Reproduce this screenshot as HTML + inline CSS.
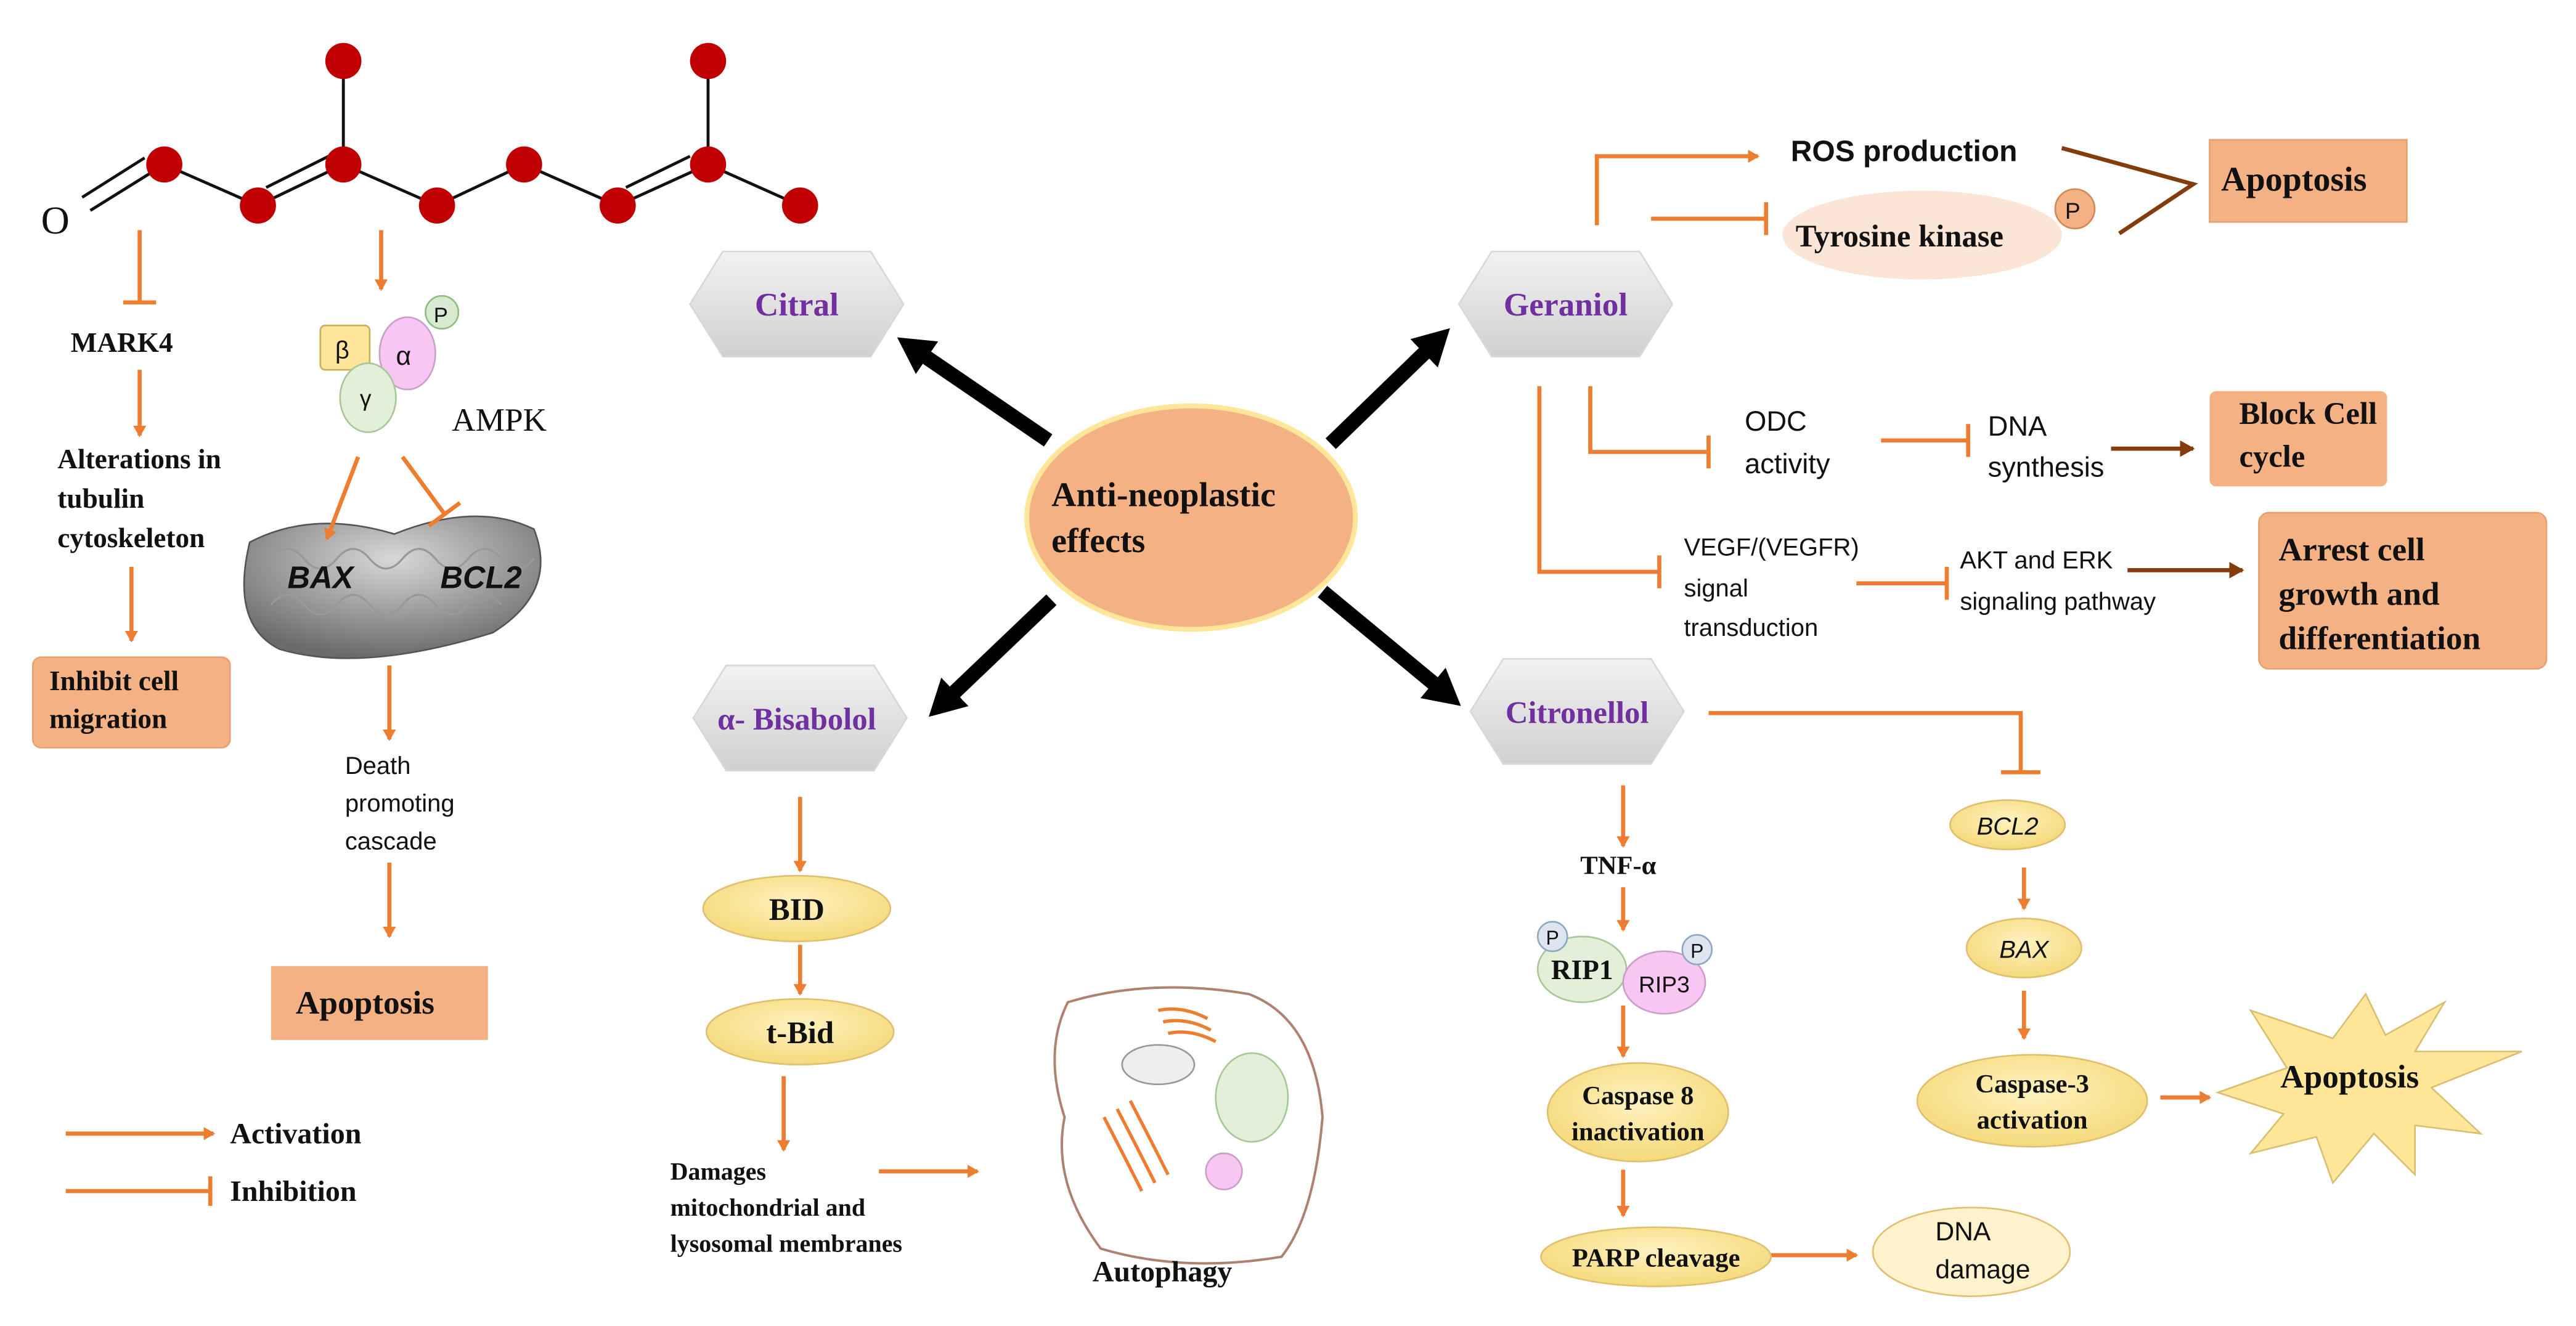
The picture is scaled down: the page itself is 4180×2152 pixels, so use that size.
<!DOCTYPE html>
<html><head><meta charset="utf-8"><style>
html,body{margin:0;padding:0;background:#fff}
svg{display:block}
text{font-family:"Liberation Serif",serif;font-weight:bold;fill:#111}
.s{font-family:"Liberation Sans",sans-serif;font-weight:normal}
.p{fill:#7030a0}
</style></head><body>
<svg width="4180" height="2152" viewBox="0 0 1568 807" xmlns="http://www.w3.org/2000/svg">
<defs>
<marker id="a" markerWidth="8" markerHeight="8" refX="6" refY="4" orient="auto" markerUnits="userSpaceOnUse"><path d="M0,0 L7,4 L0,8 z" fill="#ed7d31"/></marker>
<marker id="b" markerWidth="10" markerHeight="10" refX="8" refY="5" orient="auto" markerUnits="userSpaceOnUse"><path d="M0,0 L9,5 L0,10 z" fill="#843c0c"/></marker>
<marker id="k" markerWidth="30" markerHeight="30" refX="10" refY="12" orient="auto" markerUnits="userSpaceOnUse"><path d="M0,0 L22,12 L0,24 z" fill="#000"/></marker>
<linearGradient id="hx" x1="0" y1="0" x2="0" y2="1"><stop offset="0" stop-color="#f2f2f2"/><stop offset="1" stop-color="#d0d0d0"/></linearGradient>
<radialGradient id="yl" cx="0.5" cy="0.4" r="0.6"><stop offset="0" stop-color="#fff2c0"/><stop offset="1" stop-color="#f5d97a"/></radialGradient>
<radialGradient id="ml" cx="0.5" cy="0.3" r="0.7"><stop offset="0" stop-color="#d8d8d8"/><stop offset="1" stop-color="#6a6a6a"/></radialGradient>
</defs>
<!-- mitochondrion -->
<path d="M152,330 Q190,310 240,325 Q290,305 325,322 Q340,360 300,385 Q220,410 170,395 Q140,380 152,330 z" fill="url(#ml)" stroke="#555"/>
<g stroke="#999" stroke-width="1.2" fill="none">
<path d="M165,340 q10,-12 20,0 q10,12 20,0 q10,-12 20,0 q10,12 20,0 q10,-12 20,0 q10,12 20,0 q10,-12 20,0 q10,12 20,0"/>
<path d="M165,368 q10,-12 20,0 q10,12 20,0 q10,-12 20,0 q10,12 20,0 q10,-12 20,0 q10,12 20,0 q10,-12 20,0"/>
</g>
<text x="175" y="358" class="s" font-size="19" font-style="italic" style="font-weight:bold">BAX</text>
<text x="268" y="358" class="s" font-size="19" font-style="italic" style="font-weight:bold">BCL2</text>
<g stroke="#ed7d31" stroke-width="2.5" fill="none">
<!-- left -->
<line x1="85" y1="140" x2="85" y2="184"/><line x1="75" y1="184" x2="95" y2="184"/>
<line x1="85" y1="225" x2="85" y2="265" marker-end="url(#a)"/>
<line x1="80" y1="345" x2="80" y2="390" marker-end="url(#a)"/>
<line x1="232" y1="140" x2="232" y2="176" marker-end="url(#a)"/>
<line x1="218" y1="278" x2="199" y2="328" marker-end="url(#a)"/>
<line x1="245" y1="278" x2="270" y2="312"/><line x1="261" y1="320" x2="280" y2="306"/>
<line x1="237" y1="405" x2="237" y2="450" marker-end="url(#a)"/>
<line x1="237" y1="525" x2="237" y2="570" marker-end="url(#a)"/>
<line x1="40" y1="690" x2="130" y2="690" marker-end="url(#a)"/>
<line x1="40" y1="725" x2="128" y2="725"/><line x1="128" y1="716" x2="128" y2="734"/>
<!-- geraniol -->
<polyline points="972,137 972,95 1070,95" marker-end="url(#a)"/>
<line x1="1005" y1="133" x2="1075" y2="133"/><line x1="1075" y1="123" x2="1075" y2="143"/>
<polyline points="968,235 968,275 1040,275"/><line x1="1040" y1="265" x2="1040" y2="285"/>
<line x1="1145" y1="268" x2="1198" y2="268"/><line x1="1198" y1="258" x2="1198" y2="278"/>
<polyline points="937,235 937,348 1010,348"/><line x1="1010" y1="338" x2="1010" y2="358"/>
<line x1="1130" y1="355" x2="1185" y2="355"/><line x1="1185" y1="345" x2="1185" y2="365"/>
<!-- citronellol -->
<polyline points="1040,434 1230,434 1230,470"/><line x1="1218" y1="470" x2="1242" y2="470"/>
<line x1="1232" y1="528" x2="1232" y2="553" marker-end="url(#a)"/>
<line x1="1232" y1="603" x2="1232" y2="632" marker-end="url(#a)"/>
<line x1="1315" y1="668" x2="1345" y2="668" marker-end="url(#a)"/>
<line x1="988" y1="478" x2="988" y2="515" marker-end="url(#a)"/>
<line x1="988" y1="540" x2="988" y2="566" marker-end="url(#a)"/>
<line x1="988" y1="612" x2="988" y2="643" marker-end="url(#a)"/>
<line x1="988" y1="712" x2="988" y2="740" marker-end="url(#a)"/>
<line x1="1078" y1="764" x2="1130" y2="764" marker-end="url(#a)"/>
<!-- bisabolol -->
<line x1="487" y1="485" x2="487" y2="530" marker-end="url(#a)"/>
<line x1="487" y1="575" x2="487" y2="605" marker-end="url(#a)"/>
<line x1="477" y1="655" x2="477" y2="700" marker-end="url(#a)"/>
<line x1="535" y1="713" x2="595" y2="713" marker-end="url(#a)"/>
</g>
<g stroke="#843c0c" stroke-width="2.5" fill="none">
<polyline points="1255,90 1335,112 1290,142"/>
<line x1="1285" y1="273" x2="1335" y2="273" marker-end="url(#b)"/>
<line x1="1295" y1="347" x2="1365" y2="347" marker-end="url(#b)"/>
</g>
<!-- molecule -->
<g stroke="#111" stroke-width="1.8">
<line x1="55" y1="128" x2="100" y2="100"/><line x1="50" y1="120" x2="88" y2="96"/>
<polyline points="100,100 157,125 209,100 266,125 319,100 376,125 431,100 487,125" fill="none"/>
<line x1="162" y1="114" x2="200" y2="95"/><line x1="381" y1="114" x2="420" y2="95"/>
<line x1="209" y1="100" x2="209" y2="37"/><line x1="431" y1="100" x2="431" y2="37"/>
</g>
<g fill="#c00000"><circle cx="100" cy="100" r="11"/><circle cx="157" cy="125" r="11"/><circle cx="209" cy="100" r="11"/><circle cx="209" cy="37" r="11"/><circle cx="266" cy="125" r="11"/><circle cx="319" cy="100" r="11"/><circle cx="376" cy="125" r="11"/><circle cx="431" cy="100" r="11"/><circle cx="431" cy="37" r="11"/><circle cx="487" cy="125" r="11"/></g>
<text x="25" y="142" font-size="24" style="font-weight:normal">O</text>
<!-- left texts -->
<text x="43" y="214" font-size="17">MARK4</text>
<text x="35" y="285" font-size="17">Alterations in</text>
<text x="35" y="309" font-size="17">tubulin</text>
<text x="35" y="333" font-size="17">cytoskeleton</text>
<rect x="20" y="400" width="120" height="55" rx="5" fill="#f4b183" stroke="#e9a070"/>
<text x="30" y="420" font-size="17">Inhibit cell</text>
<text x="30" y="443" font-size="17">migration</text>
<!-- AMPK -->
<rect x="195" y="198" width="30" height="27" rx="3" fill="#ffe699" stroke="#c9b15a"/>
<text x="204" y="218" class="s" font-size="15">β</text>
<ellipse cx="248" cy="215" rx="17" ry="22" fill="#f7c6f2" stroke="#c9a0c9"/>
<text x="241" y="222" class="s" font-size="16">α</text>
<circle cx="269" cy="190" r="10" fill="#d9ead3" stroke="#8fbf80"/>
<text x="264" y="196" class="s" font-size="13">P</text>
<ellipse cx="224" cy="242" rx="17" ry="21" fill="#e2efd9" stroke="#a9c79a"/>
<text x="219" y="247" class="s" font-size="14">γ</text>
<text x="275" y="262" font-size="20" style="font-weight:normal">AMPK</text>
<text x="210" y="471" class="s" font-size="15">Death</text>
<text x="210" y="494" class="s" font-size="15">promoting</text>
<text x="210" y="517" class="s" font-size="15">cascade</text>
<rect x="165" y="588" width="132" height="45" fill="#f4b183"/>
<text x="180" y="617" font-size="20">Apoptosis</text>
<text x="140" y="696" font-size="18">Activation</text>
<text x="140" y="731" font-size="18">Inhibition</text>
<!-- hexagons -->
<g fill="url(#hx)" stroke="#d8d8d8">
<polygon points="420,185 440,153 530,153 550,185 530,217 440,217"/>
<polygon points="888,185 908,153 998,153 1018,185 998,217 908,217"/>
<polygon points="422,437 442,405 532,405 552,437 532,469 442,469"/>
<polygon points="895,433 915,401 1005,401 1025,433 1005,465 915,465"/>
</g>
<text x="485" y="192" font-size="20" class="p" text-anchor="middle">Citral</text>
<text x="953" y="192" font-size="20" class="p" text-anchor="middle">Geraniol</text>
<text x="485" y="444" font-size="19" class="p" text-anchor="middle">α- Bisabolol</text>
<text x="960" y="440" font-size="19" class="p" text-anchor="middle">Citronellol</text>
<!-- center -->
<ellipse cx="725" cy="315" rx="100" ry="68" fill="#f4b183" stroke="#ffe699" stroke-width="3"/>
<text x="640" y="308" font-size="21">Anti-neoplastic</text>
<text x="640" y="336" font-size="21">effects</text>
<g stroke="#000" stroke-width="9">
<line x1="638" y1="268" x2="556" y2="212" marker-end="url(#k)"/>
<line x1="810" y1="270" x2="874" y2="208" marker-end="url(#k)"/>
<line x1="640" y1="365" x2="574" y2="428" marker-end="url(#k)"/>
<line x1="805" y1="360" x2="880" y2="422" marker-end="url(#k)"/>
</g>
<!-- geraniol right -->
<text x="1090" y="98" class="s" font-size="18" style="font-weight:bold">ROS production</text>
<ellipse cx="1170" cy="143" rx="85" ry="27" fill="#fbe5d6"/>
<text x="1093" y="150" font-size="19">Tyrosine kinase</text>
<circle cx="1263" cy="127" r="12" fill="#f4b183" stroke="#d08a5a"/>
<text x="1257" y="133" class="s" font-size="14">P</text>
<rect x="1345" y="85" width="120" height="50" fill="#f4b183" stroke="#e9a070"/>
<text x="1352" y="116" font-size="21">Apoptosis</text>
<text x="1062" y="262" class="s" font-size="17">ODC</text>
<text x="1062" y="288" class="s" font-size="17">activity</text>
<text x="1210" y="265" class="s" font-size="17">DNA</text>
<text x="1210" y="290" class="s" font-size="17">synthesis</text>
<rect x="1345" y="238" width="108" height="58" rx="4" fill="#f4b183"/>
<text x="1363" y="258" font-size="19">Block Cell</text>
<text x="1363" y="284" font-size="19">cycle</text>
<text x="1025" y="338" class="s" font-size="15">VEGF/(VEGFR)</text>
<text x="1025" y="363" class="s" font-size="15">signal</text>
<text x="1025" y="387" class="s" font-size="15">transduction</text>
<text x="1193" y="346" class="s" font-size="15">AKT and ERK</text>
<text x="1193" y="371" class="s" font-size="15">signaling pathway</text>
<rect x="1375" y="312" width="175" height="95" rx="6" fill="#f4b183" stroke="#e9a070"/>
<text x="1387" y="341" font-size="20">Arrest cell</text>
<text x="1387" y="368" font-size="20">growth and</text>
<text x="1387" y="395" font-size="20">differentiation</text>
<!-- citronellol pathway -->
<g fill="url(#yl)" stroke="#e0c070">
<ellipse cx="1222" cy="502" rx="35" ry="15"/>
<ellipse cx="1232" cy="577" rx="35" ry="18"/>
<ellipse cx="1237" cy="670" rx="70" ry="28"/>
<ellipse cx="997" cy="677" rx="55" ry="30"/>
<ellipse cx="1008" cy="765" rx="70" ry="18"/>
<ellipse cx="485" cy="553" rx="57" ry="20"/>
<ellipse cx="487" cy="628" rx="57" ry="20"/>
</g>
<ellipse cx="1200" cy="762" rx="60" ry="27" fill="#fff2cc" stroke="#e0c070"/>
<text x="1222" y="508" class="s" font-size="15" font-style="italic" text-anchor="middle">BCL2</text>
<text x="1232" y="583" class="s" font-size="15" font-style="italic" text-anchor="middle">BAX</text>
<text x="1237" y="665" font-size="16" text-anchor="middle">Caspase-3</text>
<text x="1237" y="687" font-size="16" text-anchor="middle">activation</text>
<text x="997" y="672" font-size="16" text-anchor="middle">Caspase 8</text>
<text x="997" y="694" font-size="16" text-anchor="middle">inactivation</text>
<text x="1008" y="771" font-size="16" text-anchor="middle">PARP cleavage</text>
<text x="1178" y="755" class="s" font-size="16">DNA</text>
<text x="1178" y="778" class="s" font-size="16">damage</text>
<polygon points="1440,605 1452,630 1488,610 1470,640 1535,640 1480,662 1510,690 1470,685 1470,715 1445,690 1420,720 1410,692 1370,702 1390,678 1350,665 1392,650 1370,615 1420,632" fill="#ffe699" stroke="#d9c070"/>
<text x="1388" y="662" font-size="20">Apoptosis</text>
<text x="985" y="532" font-size="16" text-anchor="middle">TNF-α</text>
<ellipse cx="963" cy="590" rx="27" ry="20" fill="#e2efd9" stroke="#aac79a"/>
<ellipse cx="1013" cy="598" rx="25" ry="19" fill="#f7c6f2" stroke="#c9a0c9"/>
<circle cx="945" cy="570" r="9" fill="#dde6f0" stroke="#8ea8c0"/>
<circle cx="1033" cy="578" r="9" fill="#dde6f0" stroke="#8ea8c0"/>
<text x="941" y="575" class="s" font-size="12">P</text>
<text x="1029" y="583" class="s" font-size="12">P</text>
<text x="963" y="596" font-size="17" text-anchor="middle">RIP1</text>
<text x="1013" y="604" class="s" font-size="14" text-anchor="middle">RIP3</text>
<!-- bisabolol -->
<text x="485" y="560" font-size="19" text-anchor="middle">BID</text>
<text x="487" y="635" font-size="19" text-anchor="middle">t-Bid</text>
<text x="408" y="718" font-size="15">Damages</text>
<text x="408" y="740" font-size="15">mitochondrial and</text>
<text x="408" y="762" font-size="15">lysosomal membranes</text>
<path d="M650,610 Q700,595 760,605 Q800,620 805,680 Q800,740 780,765 Q720,775 670,760 Q640,720 648,680 Q635,640 650,610 z" fill="#fff" stroke="#b08070" stroke-width="1.5"/>
<ellipse cx="705" cy="648" rx="22" ry="12" fill="#eee" stroke="#999"/>
<ellipse cx="762" cy="668" rx="22" ry="27" fill="#e2efd9" stroke="#aac79a"/>
<circle cx="745" cy="713" r="11" fill="#f7c6f2" stroke="#c9a0c9"/>
<g stroke="#ed7d31" stroke-width="2" fill="none">
<path d="M705,615 Q720,612 735,620"/><path d="M708,622 Q722,619 737,627"/><path d="M711,629 Q725,626 740,634"/>
<path d="M672,680 Q685,705 695,725"/><path d="M680,675 Q693,700 703,720"/><path d="M688,670 Q701,695 711,715"/>
</g>
<text x="665" y="780" font-size="18">Autophagy</text>
</svg>
</body></html>
